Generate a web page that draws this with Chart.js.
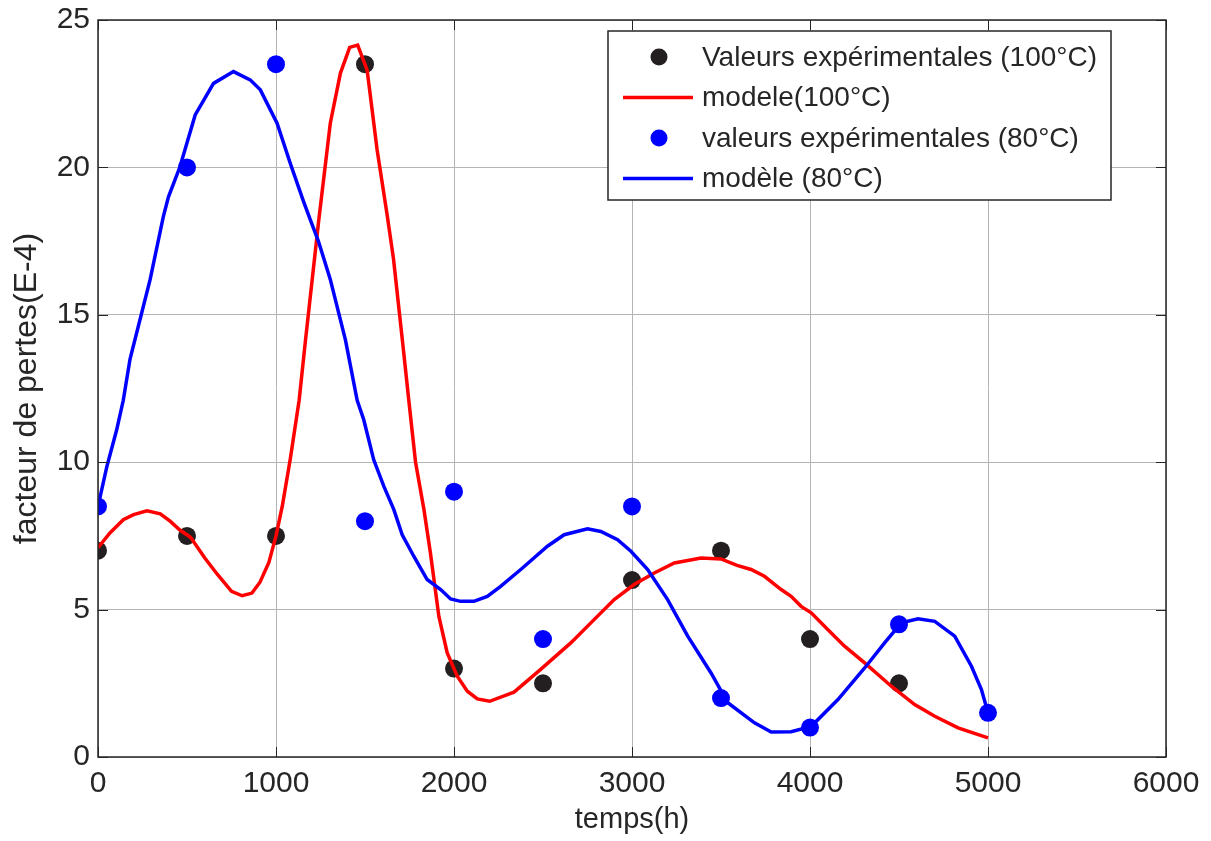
<!DOCTYPE html>
<html><head><meta charset="utf-8">
<script src="https://cdn.jsdelivr.net/npm/chart.js@4/dist/chart.umd.min.js"></script>
<style>html,body{margin:0;padding:0;background:#fff}</style>
</head><body>
<canvas id="c" width="1211" height="841" style="display:block"></canvas>
<script>
// ---- data ----
const seriesLabels = ["Valeurs expérimentales (100°C)", "modele(100°C)", "valeurs expérimentales (80°C)", "modèle (80°C)"];
const xTitle = "temps(h)";
const yTitle = "facteur de pertes(E-4)";

const exp100T = [0, 500, 1000, 1500, 2000, 2500, 3000, 3500, 4000, 4500];
const exp100V = [7, 7.5, 7.5, 23.5, 3, 2.5, 6, 7, 4, 2.5];

const exp80T = [0, 500, 1000, 1500, 2000, 2500, 3000, 3500, 4000, 4500, 5000];
const exp80V = [8.5, 20, 23.5, 8, 9, 4, 8.5, 2, 1, 4.5, 1.5];

const mod100T = [0, 67, 142, 200, 275, 350, 405, 460, 520, 600, 670, 750, 810, 865, 910, 960, 1000, 1035, 1080, 1130, 1165, 1240, 1305, 1362, 1414, 1459, 1512, 1568, 1624, 1660, 1716, 1746, 1784, 1831, 1868, 1915, 1962, 2018, 2075, 2131, 2200, 2337, 2487, 2656, 2787, 2900, 3012, 3125, 3238, 3388, 3500, 3590, 3669, 3744, 3838, 3894, 3950, 4007, 4101, 4194, 4307, 4457, 4588, 4701, 4832, 5000];
const mod100V = [7.1, 7.6, 8.05, 8.22, 8.35, 8.25, 8.0, 7.7, 7.45, 6.75, 6.2, 5.62, 5.47, 5.56, 5.93, 6.6, 7.5, 8.5, 10.1, 12.1, 14.1, 18.2, 21.5, 23.2, 24.07, 24.15, 23.3, 20.6, 18.4, 16.9, 13.8, 12.1, 10.0, 8.4, 6.9, 4.77, 3.53, 2.74, 2.23, 1.97, 1.89, 2.2, 2.97, 3.87, 4.66, 5.34, 5.85, 6.24, 6.58, 6.75, 6.72, 6.5, 6.36, 6.13, 5.68, 5.45, 5.11, 4.89, 4.32, 3.76, 3.19, 2.4, 1.78, 1.38, 0.99, 0.65];

const mod80T = [0, 50, 105, 142, 180, 293, 367, 396, 461, 546, 649, 761, 855, 912, 1006, 1080, 1155, 1193, 1238, 1305, 1390, 1456, 1493, 1549, 1606, 1662, 1709, 1774, 1849, 1925, 1981, 2037, 2112, 2187, 2262, 2375, 2525, 2619, 2750, 2825, 2919, 2994, 3088, 3200, 3313, 3444, 3538, 3688, 3782, 3894, 4007, 4157, 4307, 4419, 4513, 4607, 4701, 4813, 4907, 4963, 5000];
const mod80V = [8.5, 9.86, 11.1, 12.1, 13.5, 16.2, 18.33, 19.0, 20.03, 21.78, 22.85, 23.25, 22.97, 22.63, 21.5, 20.14, 18.84, 18.22, 17.5, 16.2, 14.15, 12.1, 11.44, 10.08, 9.18, 8.39, 7.54, 6.81, 6.02, 5.68, 5.36, 5.28, 5.28, 5.45, 5.79, 6.36, 7.15, 7.54, 7.74, 7.65, 7.37, 6.98, 6.36, 5.34, 4.1, 2.85, 1.84, 1.16, 0.85, 0.86, 1.04, 1.95, 3.02, 3.87, 4.55, 4.69, 4.6, 4.1, 3.08, 2.29, 1.5];

const xTicks = [0, 1000, 2000, 3000, 4000, 5000, 6000];
const yTicks = [0, 5, 10, 15, 20, 25];

// ---- styles ----
const FONT = '"Liberation Sans", Arial, Helvetica, sans-serif';
const TXT = '#262626';
const BLACK = '#231f20', RED = '#ff0000', BLUE = '#0000ff';

const pts = (xs, ys) => xs.map((v, i) => ({x: v, y: ys[i]}));

const datasets = [
  {label: seriesLabels[0], data: pts(exp100T, exp100V), showLine: false, pointRadius: 9, pointHoverRadius: 9,
   backgroundColor: BLACK, borderColor: BLACK, pointBorderWidth: 0, order: 4, legendKind: 'dot'},
  {label: seriesLabels[1], data: pts(mod100T, mod100V), showLine: true, pointRadius: 0, borderColor: RED,
   backgroundColor: RED, borderWidth: 3.5, tension: 0, order: 3, legendKind: 'line'},
  {label: seriesLabels[2], data: pts(exp80T, exp80V), showLine: false, pointRadius: 9, pointHoverRadius: 9,
   backgroundColor: BLUE, borderColor: BLUE, pointBorderWidth: 0, order: 2, legendKind: 'dot'},
  {label: seriesLabels[3], data: pts(mod80T, mod80V), showLine: true, pointRadius: 0, borderColor: BLUE,
   backgroundColor: BLUE, borderWidth: 3.5, tension: 0, order: 1, legendKind: 'line'}
];

const framePlugin = {
  id: 'frame',
  afterDraw(chart) {
    const {ctx, chartArea: a, scales: {x, y}} = chart;
    ctx.save();
    // inward ticks
    ctx.strokeStyle = TXT; ctx.lineWidth = 1;
    const L = 10;
    ctx.beginPath();
    x.ticks.forEach(t => {
      const p = Math.round(x.getPixelForValue(t.value)) + 0.5;
      ctx.moveTo(p, a.bottom); ctx.lineTo(p, a.bottom - L);
      ctx.moveTo(p, a.top); ctx.lineTo(p, a.top + L);
    });
    y.ticks.forEach(t => {
      const p = Math.round(y.getPixelForValue(t.value)) + 0.5;
      ctx.moveTo(a.left, p); ctx.lineTo(a.left + L, p);
      ctx.moveTo(a.right, p); ctx.lineTo(a.right - L, p);
    });
    ctx.stroke();
    // box
    ctx.lineWidth = 1.5;
    ctx.strokeRect(a.left, a.top, a.right - a.left, a.bottom - a.top);

    // legend (inside, top right)
    const bx = a.left + 510, by = a.top + 11, bw = 503, bh = 169;
    ctx.fillStyle = '#fff';
    ctx.fillRect(bx, by, bw, bh);
    ctx.strokeStyle = TXT; ctx.lineWidth = 1.5;
    ctx.strokeRect(bx, by, bw, bh);
    ctx.font = '28px ' + FONT;
    ctx.textBaseline = 'middle';
    chart.data.datasets.forEach((ds, i) => {
      const cy = by + 26 + i * 40.5;
      if (ds.legendKind === 'dot') {
        ctx.fillStyle = ds.backgroundColor;
        ctx.beginPath(); ctx.arc(bx + 51, cy, 8.5, 0, Math.PI * 2); ctx.fill();
      } else {
        ctx.strokeStyle = ds.borderColor; ctx.lineWidth = 3.5;
        ctx.beginPath(); ctx.moveTo(bx + 15, cy); ctx.lineTo(bx + 85, cy); ctx.stroke();
      }
      ctx.fillStyle = TXT;
      ctx.fillText(ds.label, bx + 94, cy + 1);
    });
    ctx.restore();
  }
};

const plain = v => String(v);

new Chart(document.getElementById('c'), {
  type: 'scatter',
  data: {datasets},
  options: {
    responsive: false,
    animation: false,
    devicePixelRatio: 1,
    layout: {padding: {top: 20, right: 45, left: 0, bottom: 0}},
    plugins: {legend: {display: false}, tooltip: {enabled: false}},
    scales: {
      x: {
        type: 'linear', min: 0, max: 6000,
        afterBuildTicks: s => { s.ticks = xTicks.map(v => ({value: v})); },
        afterFit: s => { s.height = 84; s.paddingLeft = 0; s.paddingRight = 0; },
        ticks: {font: {family: FONT, size: 30, lineHeight: 1}, color: TXT, padding: 12, maxRotation: 0, autoSkip: false, callback: plain},
        grid: {color: '#b4b4b4', lineWidth: 1, drawTicks: false},
        border: {display: false},
        title: {display: true, text: xTitle, font: {family: FONT, size: 29}, color: TXT, padding: {top: 0, bottom: 4}}
      },
      y: {
        type: 'linear', min: 0, max: 25,
        afterBuildTicks: s => { s.ticks = yTicks.map(v => ({value: v})); },
        afterFit: s => { s.width = 98; s.paddingTop = 0; s.paddingBottom = 0; },
        ticks: {font: {family: FONT, size: 30, lineHeight: 1}, color: TXT, padding: 8, autoSkip: false, callback: plain},
        grid: {color: '#b4b4b4', lineWidth: 1, drawTicks: false},
        border: {display: false},
        title: {display: true, text: yTitle, font: {family: FONT, size: 32}, color: TXT, padding: {top: 8, bottom: 0}}
      }
    }
  },
  plugins: [framePlugin]
});
</script>
</body></html>
